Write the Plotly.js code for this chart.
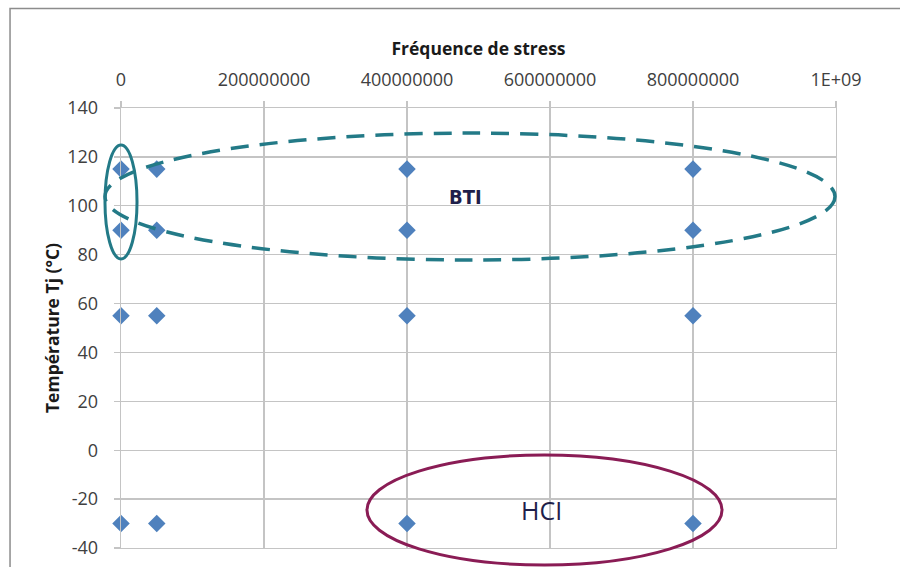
<!DOCTYPE html>
<html>
<head>
<meta charset="utf-8">
<script src="https://cdn.plot.ly/plotly-3.0.1.min.js"></script>
<style>html,body{margin:0;padding:0;background:#fff;}#chart{width:900px;height:567px;}</style>
</head>
<body>
<div id="chart"></div>
<script>
// Data
const frequences = [0, 0, 0, 0, 50000000, 50000000, 50000000, 50000000, 400000000, 400000000, 400000000, 400000000, 800000000, 800000000, 800000000, 800000000];
const temperatures = [115, 90, 55, -30, 115, 90, 55, -30, 115, 90, 55, -30, 115, 90, 55, -30];
const xTickVals = [0, 200000000, 400000000, 600000000, 800000000, 1000000000];
const xTickText = ["0", "200000000", "400000000", "600000000", "800000000", "1E+09"];
const yTickVals = [-40, -20, 0, 20, 40, 60, 80, 100, 120, 140];
const yTickText = ["-40", "-20", "0", "20", "40", "60", "80", "100", "120", "140"];
const labelBTI = "BTI";
const labelHCI = "HCI";

const trace = {
  x: frequences, y: temperatures, type: 'scatter', mode: 'markers',
  marker: {symbol: 'diamond', size: 13.5, color: '#4f81bd'},
  cliponaxis: false,
  hoverinfo: 'x+y', showlegend: false
};

const gridC = '#c4c4c4';
const tickFont = {family: 'Open Sans, Liberation Sans, sans-serif', size: 18, color: '#404040'};
const titleFont = {family: 'Open Sans, Liberation Sans, sans-serif', size: 17.5, color: '#1a1a1a', weight: 'bold'};

const layout = {
  width: 900, height: 567,
  margin: {l: 121, r: 64, t: 108, b: 19, pad: 0},
  paper_bgcolor: '#ffffff', plot_bgcolor: '#ffffff',
  showlegend: false,
  xaxis: {
    side: 'top', range: [0, 1000000000], tickmode: 'array',
    tickvals: xTickVals, ticktext: xTickText,
    showgrid: true, gridcolor: gridC, gridwidth: 1.3,
    zeroline: false, showline: true, mirror: true, linecolor: gridC, linewidth: 1.3,
    ticks: 'outside', ticklen: 6, tickcolor: gridC, tickwidth: 1.3,
    ticklabelstandoff: 8,
    tickfont: tickFont,
    title: {text: 'Fréquence de stress', standoff: 6, font: titleFont}
  },
  yaxis: {
    range: [-40, 140], tickmode: 'array', tickvals: yTickVals, ticktext: yTickText,
    showgrid: true, gridcolor: gridC, gridwidth: 1.3,
    zeroline: false, showline: true, mirror: true, linecolor: gridC, linewidth: 1.3,
    ticks: 'outside', ticklen: 6, tickcolor: gridC, tickwidth: 1.3,
    ticklabelstandoff: 12,
    tickfont: tickFont,
    title: {text: 'Température Tj (°C)', standoff: 3, font: titleFont}
  },
  shapes: [
    // outer chart border
    {type: 'rect', xref: 'paper', yref: 'paper', x0: -0.1552, x1: 1.0965, y0: -0.08, y1: 1.2261,
      line: {color: '#8c8c8c', width: 1.5}, fillcolor: 'rgba(0,0,0,0)', layer: 'below'},
    // BTI dashed ellipse
    {type: 'circle', xref: 'paper', yref: 'paper', x0: -0.0224, x1: 0.9986, y0: 0.6545, y1: 0.943,
      line: {color: '#237a87', width: 3.5, dash: '18px,11px'}},
    // small teal ellipse
    {type: 'circle', xref: 'paper', yref: 'paper', x0: -0.0224, x1: 0.0224, y0: 0.657, y1: 0.916,
      line: {color: '#237a87', width: 3}},
    // HCI ellipse
    {type: 'circle', xref: 'paper', yref: 'paper', x0: 0.344, x1: 0.8406, y0: -0.0386, y1: 0.2114,
      line: {color: '#8a1c55', width: 3}}
  ],
  annotations: [
    {x: 482500000, y: 103.6, xref: 'x', yref: 'y', text: labelBTI, showarrow: false,
      font: {family: 'DejaVu Sans Condensed, Liberation Sans Narrow, Roboto, sans-serif', size: 20, color: '#1f1f4a', weight: 'bold'}},
    {x: 588800000, y: -24.5, xref: 'x', yref: 'y', text: labelHCI, showarrow: false,
      font: {family: 'Open Sans, sans-serif', size: 25, color: '#1f1f4a'}}
  ]
};

Plotly.newPlot('chart', [trace], layout, {displayModeBar: false, staticPlot: true});
</script>
</body>
</html>
